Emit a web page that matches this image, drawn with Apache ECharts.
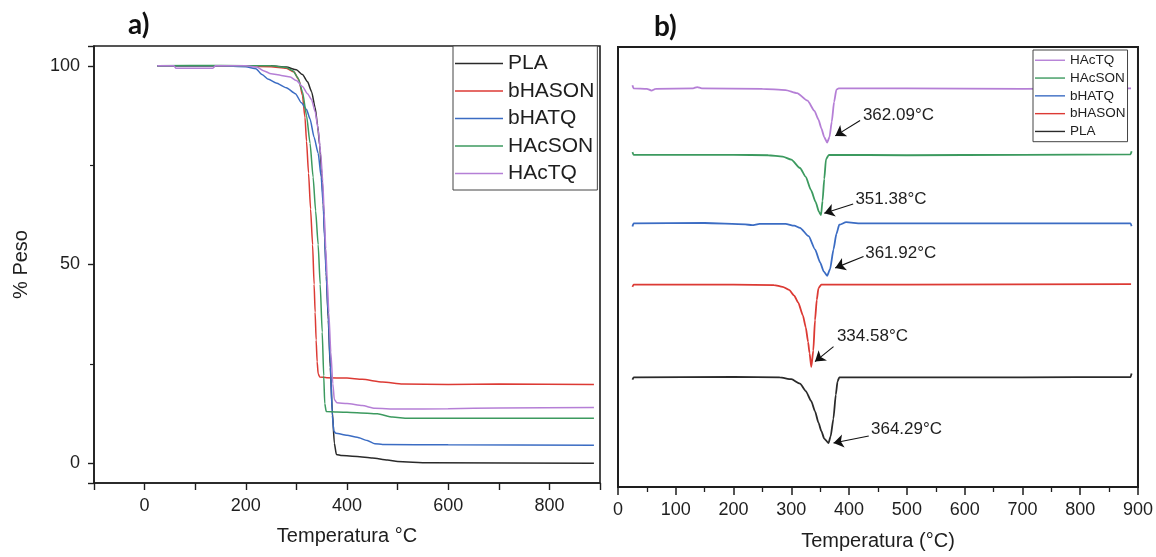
<!DOCTYPE html>
<html>
<head>
<meta charset="utf-8">
<script src="https://cdn.jsdelivr.net/npm/echarts@6/dist/echarts.min.js"></script>
<style>
html,body{margin:0;padding:0;background:#fff;}
#c{width:1156px;height:557px;}
</style>
</head>
<body>
<div id="c"></div>
<script>
// ---------- DATA ----------
const seriesNames = ['PLA', 'bHASON', 'bHATQ', 'HAcSON', 'HAcTQ'];
const seriesColors = ['#2a2a2a', '#dc3a34', '#3b6cc3', '#3c9a5f', '#b57fd6'];
const legendLeftOrder = ['PLA', 'bHASON', 'bHATQ', 'HAcSON', 'HAcTQ'];
const legendRightOrder = ['HAcTQ', 'HAcSON', 'bHATQ', 'bHASON', 'PLA'];

// a) TGA: [temperature °C, % weight]
const tgaPLA = [[25,100],[150,100],[250,100],[280,99.7],[300,99],[312,97.8],[322,96],[330,93.5],[337,89.5],[342,85],[346,80],[350,73],[353,66],[356,57],[359,48],[363,36],[367,24],[371,13],[375,5],[379,2.2],[390,1.9],[420,1.7],[450,1.3],[480,0.8],[500,0.4],[560,0.1],[888,0]];
const tgaBHASON = [[25,100],[150,100],[250,99.8],[280,99.4],[295,98.5],[305,96.5],[312,92.5],[317,87],[320,81],[324,73],[328,64],[332,55],[335,45],[337,38],[339,31],[341,25.5],[343,22.5],[346,21.7],[360,21.5],[400,21.4],[430,21.1],[470,20.4],[510,19.9],[600,19.8],[700,19.9],[888,19.8]];
const tgaBHATQ = [[25,100],[150,100],[200,99.8],[220,99.3],[232,97.8],[245,96.6],[260,95.7],[280,94.5],[298,93],[310,90.7],[320,89],[327,86.6],[335,82],[343,78],[349,72],[353,65],[356,56],[359,47],[363,37],[367,25],[371,12],[374,8],[378,7.5],[400,7],[420,6.5],[440,5.7],[455,4.9],[470,4.7],[600,4.6],[888,4.5]];
const tgaHAcSON = [[25,100],[150,100.1],[250,100],[280,99.6],[293,98.8],[303,97],[312,93.5],[320,87.5],[327,80.5],[333,72],[338,63.5],[343,55],[347,45],[351,33],[354,22],[356,15],[359,13],[380,12.9],[420,12.7],[460,12.4],[490,11.6],[520,11.3],[888,11.3]];
const tgaHAcTQ = [[25,100],[58,100],[62,99.4],[135,99.4],[140,100],[200,100],[222,99.7],[235,98.8],[250,98],[270,97.6],[288,97.2],[300,96.3],[312,94.8],[322,93],[330,91.5],[337,88.5],[343,84],[348,78],[352,71],[355,63],[358,54],[361,46],[364,38],[368,28],[372,20],[375,16],[380,15.2],[400,15],[430,14.5],[455,13.8],[500,13.6],[600,13.7],[700,13.9],[888,14]];

// b) DTG (vertically offset, arbitrary units): [temperature °C, signal]
const dtgPLA = [[25,24.4],[27,24.9],[200,25],[280,24.9],[300,24.5],[315,23.5],[325,21.8],[334.5,19.5],[341,17.2],[347,14.6],[352,12.7],[357,11],[364.3,10],[368,11.5],[372.8,15.5],[377,21],[380,24],[383,24.9],[500,24.9],[700,24.9],[887,25],[889,25.8]];
const dtgBHASON = [[25,45.5],[27,46],[200,46],[270,45.9],[285,45.5],[296,44.8],[305,43.5],[312,41.9],[320,39],[325,36.3],[329,33],[331.5,30.4],[334.6,27.3],[338,31],[341,37.9],[344,42.5],[347,45.2],[352,46],[500,46],[888,46.1]];
const dtgBHATQ = [[25,59.2],[27,59.9],[150,60],[220,59.7],[232,59.5],[245,59.8],[290,59.8],[305,59.4],[315,58.9],[330,57],[341,54],[350,51],[356,49],[362,48],[367,49.5],[373,54],[378,57.5],[383,59.6],[395,60.2],[420,59.9],[700,59.9],[887,59.9],[889,59.3]];
const dtgHAcSON = [[25,76.1],[27,75.5],[200,75.5],[260,75.4],[285,75.1],[300,74.4],[315,72.5],[325,70.5],[334,67.5],[342,64.8],[348,62.5],[351.4,61.8],[354,65],[357,70],[360,74.5],[365,75.5],[500,75.4],[700,75.5],[887,75.6],[889,76.3]];
const dtgHAcTQ = [[25,91.3],[27,90.6],[50,90.5],[58,90.1],[65,90.5],[130,90.6],[137,90.9],[145,90.6],[250,90.5],[290,90.2],[310,89.5],[328,87.8],[340,85.5],[347,83.5],[352,81.5],[357,79.5],[362,78.3],[366,79.5],[370,83],[374,87.5],[378,90.3],[382,90.6],[500,90.6],[700,90.5],[888,90.6]];

// peak annotations on b): text, text anchor [T, signal], arrow tail, arrow tip
const peakTexts = ['364.29°C', '334.58°C', '361.92°C', '351.38°C', '362.09°C'];
const peakTextPos = [[437,13], [378,34.3], [427,53], [410,65.3], [423,84.5]];
const arrowTail = [[434,11.6], [373,31.9], [425,52.4], [407,64.3], [419,83.3]];
const arrowTip = [[373,10], [341,28.5], [376,49.8], [357,62.2], [376,79.8]];

// axis ticks
const leftXTicks = {min: -100, max: 900, interval: 100, labelEvery: 200};
const leftYTicks = {min: -5, max: 105, split: 2};
const rightXTicks = {min: 0, max: 900, interval: 100};

// ---------- CHART ----------
const tgaData = [tgaPLA, tgaBHASON, tgaBHATQ, tgaHAcSON, tgaHAcTQ];
const dtgData = [dtgPLA, dtgBHASON, dtgBHATQ, dtgHAcSON, dtgHAcTQ];
const FONT = 'Liberation Sans, Arial, sans-serif';
const AX = '#1e1e1e';

const series = [];
seriesNames.forEach((n, i) => {
  series.push({
    name: n, type: 'line', xAxisIndex: 0, yAxisIndex: 0,
    data: tgaData[i], showSymbol: false, symbol: 'none',
    smooth: 0.2, smoothMonotone: 'x',
    lineStyle: {width: 1.5, color: seriesColors[i]}, itemStyle: {color: seriesColors[i]},
    animation: false
  });
});
seriesNames.forEach((n, i) => {
  series.push({
    name: n, type: 'line', xAxisIndex: 1, yAxisIndex: 1,
    data: dtgData[i], showSymbol: false, symbol: 'none',
    smooth: 0.2, smoothMonotone: 'x',
    lineStyle: {width: 1.8, color: seriesColors[i]}, itemStyle: {color: seriesColors[i]},
    animation: false,
    markLine: {
      silent: true, animation: false,
      symbol: ['none', 'arrow'], symbolSize: 10,
      lineStyle: {color: '#111', width: 1.1, type: 'solid'},
      itemStyle: {color: '#111'},
      label: {show: false},
      emphasis: {disabled: true},
      data: [[{coord: arrowTail[i]}, {coord: arrowTip[i]}]]
    },
    markPoint: {
      silent: true, animation: false,
      symbol: 'rect', symbolSize: 1,
      itemStyle: {color: 'rgba(0,0,0,0)'},
      label: {show: true, position: 'right', distance: 0, formatter: peakTexts[i],
               color: '#1e1e1e', fontSize: 17, fontFamily: FONT},
      data: [{coord: peakTextPos[i]}]
    }
  });
});

const option = {
  backgroundColor: '#fff',
  animation: false,
  title: [
    {text: 'a)', left: 123, top: 6, textStyle: {fontSize: 28, fontWeight: 'bold', color: '#111', fontFamily: 'Lato, ' + FONT}},
    {text: 'b)', left: 649, top: 8, textStyle: {fontSize: 28, fontWeight: 'bold', color: '#111', fontFamily: 'Lato, ' + FONT}}
  ],
  grid: [
    {left: 94, top: 46, width: 506, height: 437, show: true, borderColor: AX, borderWidth: 1.6, backgroundColor: 'transparent'},
    {left: 618, top: 47, width: 520, height: 440, show: true, borderColor: AX, borderWidth: 2, backgroundColor: 'transparent'}
  ],
  legend: [
    {
      data: legendLeftOrder, orient: 'vertical', left: 453, top: 46,
      icon: 'rect', itemWidth: 48, itemHeight: 1.5, itemGap: 6.5,
      padding: [7, 3, 6, 2],
      backgroundColor: '#fff', borderColor: '#444', borderWidth: 1, borderRadius: 0,
      textStyle: {fontSize: 21, color: '#1e1e1e', fontFamily: FONT, lineHeight: 21},
      selectedMode: false
    },
    {
      data: legendRightOrder, orient: 'vertical', left: 1033, top: 50,
      icon: 'rect', itemWidth: 30, itemHeight: 1.4, itemGap: 3.3,
      padding: [3, 2, 3, 2],
      backgroundColor: '#fff', borderColor: '#444', borderWidth: 1, borderRadius: 0,
      textStyle: {fontSize: 13.5, color: '#1e1e1e', fontFamily: FONT, lineHeight: 14.5},
      selectedMode: false
    }
  ],
  xAxis: [
    {
      gridIndex: 0, type: 'value', min: leftXTicks.min, max: leftXTicks.max, interval: leftXTicks.interval,
      name: 'Temperatura °C', nameLocation: 'middle', nameGap: 43,
      nameTextStyle: {fontSize: 20, color: '#1e1e1e', fontFamily: FONT},
      axisLine: {show: true, onZero: false, lineStyle: {color: AX, width: 1.6}},
      axisTick: {show: true, inside: false, length: 7, lineStyle: {color: AX, width: 1.4}},
      axisLabel: {fontSize: 18, color: '#1e1e1e', fontFamily: FONT, margin: 14,
        formatter: v => (v % leftXTicks.labelEvery === 0 && v >= 0 && v < leftXTicks.max) ? String(v) : ''},
      splitLine: {show: false}
    },
    {
      gridIndex: 1, type: 'value', min: rightXTicks.min, max: rightXTicks.max, interval: rightXTicks.interval,
      name: 'Temperatura (°C)', nameLocation: 'middle', nameGap: 44,
      nameTextStyle: {fontSize: 20, color: '#1e1e1e', fontFamily: FONT},
      axisLine: {show: true, onZero: false, lineStyle: {color: AX, width: 2}},
      axisTick: {show: true, inside: false, length: 8, lineStyle: {color: AX, width: 1.5}},
      minorTick: {show: true, splitNumber: 2, length: 5, lineStyle: {color: AX, width: 1.3}},
      axisLabel: {fontSize: 18, color: '#1e1e1e', fontFamily: FONT, margin: 14},
      splitLine: {show: false}
    }
  ],
  yAxis: [
    {
      gridIndex: 0, type: 'value', min: leftYTicks.min, max: leftYTicks.max, splitNumber: leftYTicks.split,
      name: '% Peso', nameLocation: 'middle', nameGap: 63,
      nameTextStyle: {fontSize: 20, color: '#1e1e1e', fontFamily: FONT},
      axisLine: {show: true, onZero: false, lineStyle: {color: AX, width: 1.6}},
      axisTick: {show: true, inside: false, length: 6, lineStyle: {color: AX, width: 1.4}},
      minorTick: {show: true, splitNumber: 2, length: 4, lineStyle: {color: AX, width: 1.2}},
      axisLabel: {fontSize: 18, color: '#1e1e1e', fontFamily: FONT, margin: 14,
        showMinLabel: false, showMaxLabel: false,
        formatter: v => (v % 50 === 0) ? String(v) : ''},
      splitLine: {show: false}
    },
    {
      gridIndex: 1, type: 'value', min: 0, max: 100,
      axisLine: {show: true, onZero: false, lineStyle: {color: AX, width: 2}},
      axisTick: {show: false}, axisLabel: {show: false}, splitLine: {show: false}
    }
  ],
  series: series
};

const chart = echarts.init(document.getElementById('c'), null, {renderer: 'canvas'});
chart.setOption(option);
</script>
</body>
</html>
